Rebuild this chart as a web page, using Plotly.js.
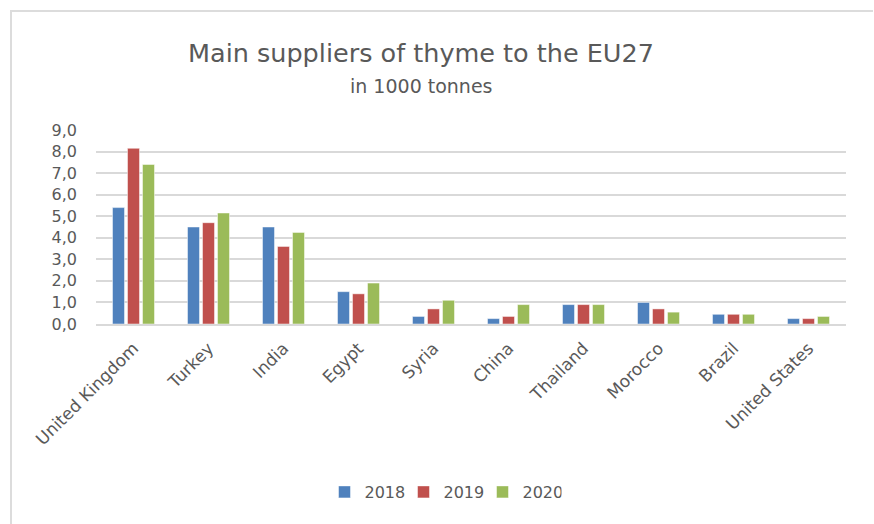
<!DOCTYPE html>
<html>
<head>
<meta charset="utf-8">
<script src="https://cdn.plot.ly/plotly-3.0.1.min.js"></script>
<style>
  html, body { margin: 0; padding: 0; background: #ffffff; }
  #wrap { position: relative; width: 874px; height: 524px; overflow: hidden; }
  #frame { position: absolute; left: 10px; top: 10px; width: 863px; height: 530px;
           border-left: 2px solid #dcdcdc; border-top: 2px solid #dcdcdc; box-sizing: border-box; pointer-events: none; }
  #chart { position: absolute; left: 0; top: 0; width: 874px; height: 524px; }
</style>
</head>
<body>
<div id="wrap">
  <div id="chart"></div>
  <div id="frame"></div>
</div>
<script>
const categories = ["United Kingdom", "Turkey", "India", "Egypt", "Syria", "China", "Thailand", "Morocco", "Brazil", "United States"];
const values2018 = [5.4, 4.5, 4.5, 1.5, 0.35, 0.25, 0.9, 1.0, 0.45, 0.25];
const values2019 = [8.15, 4.7, 3.6, 1.4, 0.7, 0.35, 0.9, 0.7, 0.45, 0.25];
const values2020 = [7.4, 5.15, 4.25, 1.9, 1.1, 0.9, 0.9, 0.55, 0.45, 0.35];
const seriesNames = ["2018", "2019", "2020"];
const yTickValues = [0, 1, 2, 3, 4, 5, 6, 7, 8, 9];
const yTickLabels = ["0,0", "1,0", "2,0", "3,0", "4,0", "5,0", "6,0", "7,0", "8,0", "9,0"];

const colors = ["#4f81bd", "#c0504d", "#9bbb59"];
const seriesValues = [values2018, values2019, values2020];
const textColor = "#595959";
const fontFamily = "DejaVu Sans, sans-serif";

const data = seriesValues.map((vals, i) => ({
  type: "bar",
  name: seriesNames[i],
  x: categories,
  y: vals,
  marker: { color: colors[i], line: { color: "rgba(255,255,255,0.6)", width: 0.8 } },
  hoverinfo: "x+y+name"
}));

const layout = {
  width: 874,
  height: 524,
  margin: { l: 96, r: 28, t: 130, b: 200 },
  paper_bgcolor: "#ffffff",
  plot_bgcolor: "#ffffff",
  barmode: "group",
  bargap: 0.4,
  bargroupgap: 0.2,
  font: { family: fontFamily, color: textColor, size: 16 },
  title: {
    text: "Main suppliers of thyme to the EU27",
    font: { family: fontFamily, size: 25.5, color: textColor },
    x: 421 / 874,
    xanchor: "center",
    xref: "container",
    y: 1 - 53 / 524,
    yanchor: "middle",
    yref: "container"
  },
  annotations: [{
    text: "in 1000 tonnes",
    xref: "paper", yref: "paper",
    x: (421 - 96) / 750, y: (324 - 86) / 194,
    xanchor: "center", yanchor: "middle",
    showarrow: false,
    font: { family: fontFamily, size: 19, color: textColor }
  }],
  xaxis: {
    type: "category",
    tickangle: -45,
    tickfont: { family: fontFamily, size: 17, color: textColor },
    showgrid: false,
    showline: true,
    linecolor: "#d9d9d9",
    linewidth: 1.5,
    ticks: "",
    ticklabelstandoff: 6,
    fixedrange: true
  },
  yaxis: {
    range: [0, 9],
    tickvals: yTickValues,
    ticktext: yTickLabels,
    tickfont: { family: fontFamily, size: 16, color: textColor },
    showgrid: true,
    gridcolor: "#d9d9d9",
    gridwidth: 1.5,
    zeroline: false,
    showline: false,
    ticks: "",
    ticklabelstandoff: 18,
    fixedrange: true
  },
  showlegend: true,
  legend: {
    orientation: "h",
    x: (443 - 96) / 750,
    xanchor: "center",
    y: (324 - 492) / 194,
    yanchor: "middle",
    entrywidth: 34,
    entrywidthmode: "pixels",
    font: { family: fontFamily, size: 16, color: textColor },
    bgcolor: "rgba(0,0,0,0)"
  }
};

Plotly.newPlot("chart", data, layout, { displayModeBar: false, staticPlot: false });
</script>
</body>
</html>
